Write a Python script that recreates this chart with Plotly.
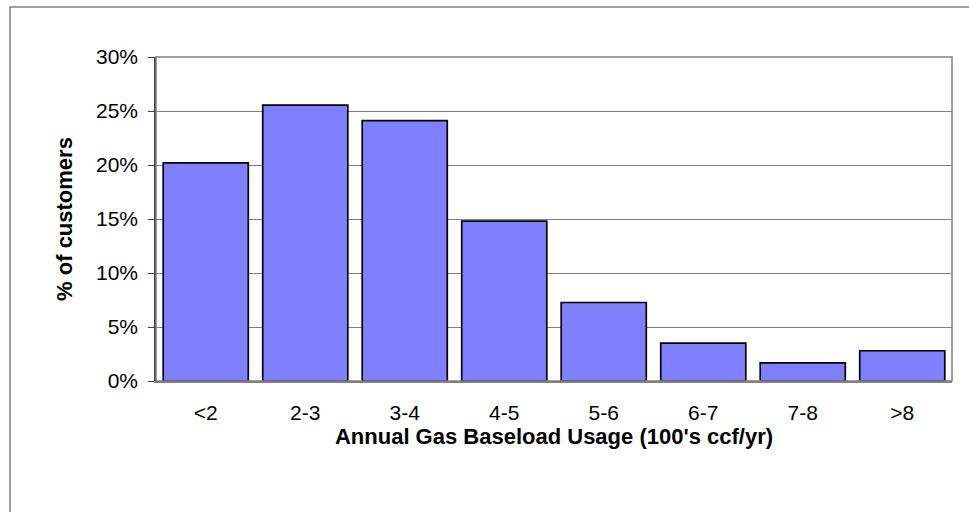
import plotly.graph_objects as go

categories = ["<2", "2-3", "3-4", "4-5", "5-6", "6-7", "7-8", ">8"]
pct_customers = [0.202, 0.2555, 0.241, 0.148, 0.0727, 0.035, 0.0167, 0.028]
y_ticks = [0, 0.05, 0.10, 0.15, 0.20, 0.25, 0.30]
x_title = "Annual Gas Baseload Usage (100's ccf/yr)"
y_title = "% of customers"

W, H = 969, 512
L, R, T, B = 156, 17, 57, 131
pw, ph = W - L - R, H - T - B

fig = go.Figure()
fig.add_trace(go.Bar(
    x=categories, y=pct_customers,
    marker=dict(color="#8080FF", line=dict(color="#000000", width=1.7)),
    width=0.855,
))

font = "Liberation Sans, Arial, sans-serif"

fig.update_layout(
    width=W, height=H,
    margin=dict(l=L, r=R, t=T, b=B, pad=0),
    paper_bgcolor="white", plot_bgcolor="white",
    showlegend=False,
    font=dict(family=font, size=21, color="#000000"),
    xaxis=dict(
        type="category",
        showgrid=False, zeroline=False,
        showline=True, linecolor="#808080", linewidth=1.5,
        ticks="outside", ticklen=12, tickcolor="rgba(0,0,0,0)",
        tickfont=dict(size=21),
        title=dict(text=x_title, font=dict(size=22, family=font, weight="bold"), standoff=6),
    ),
    yaxis=dict(
        range=[0, 0.30], tickvals=y_ticks, tickformat=".0%",
        showgrid=True, gridcolor="#808080", gridwidth=1,
        zeroline=False,
        showline=True, linecolor="#404040", linewidth=1.5,
        ticks="outside", ticklen=6, tickcolor="#404040", tickwidth=1.2,
        ticklabelstandoff=6,
        tickfont=dict(size=21),
        title=dict(text=y_title, font=dict(size=22, family=font, weight="bold"), standoff=17),
    ),
    shapes=[
        dict(type="rect", xref="paper", yref="paper", x0=0, x1=1, y0=0, y1=1,
             line=dict(color="#808080", width=1.5), layer="above"),
        dict(type="rect", xref="paper", yref="paper",
             x0=(10 - L) / pw, x1=(W + 10 - L) / pw,
             y0=-(B + 20) / ph, y1=(H - B - 7) / ph,
             line=dict(color="#808080", width=1.5), layer="below"),
    ],
)

fig.write_html(
    "out.html",
    config={"displayModeBar": False},
    post_script="document.body.style.margin='0';document.documentElement.style.overflow='hidden';",
)
